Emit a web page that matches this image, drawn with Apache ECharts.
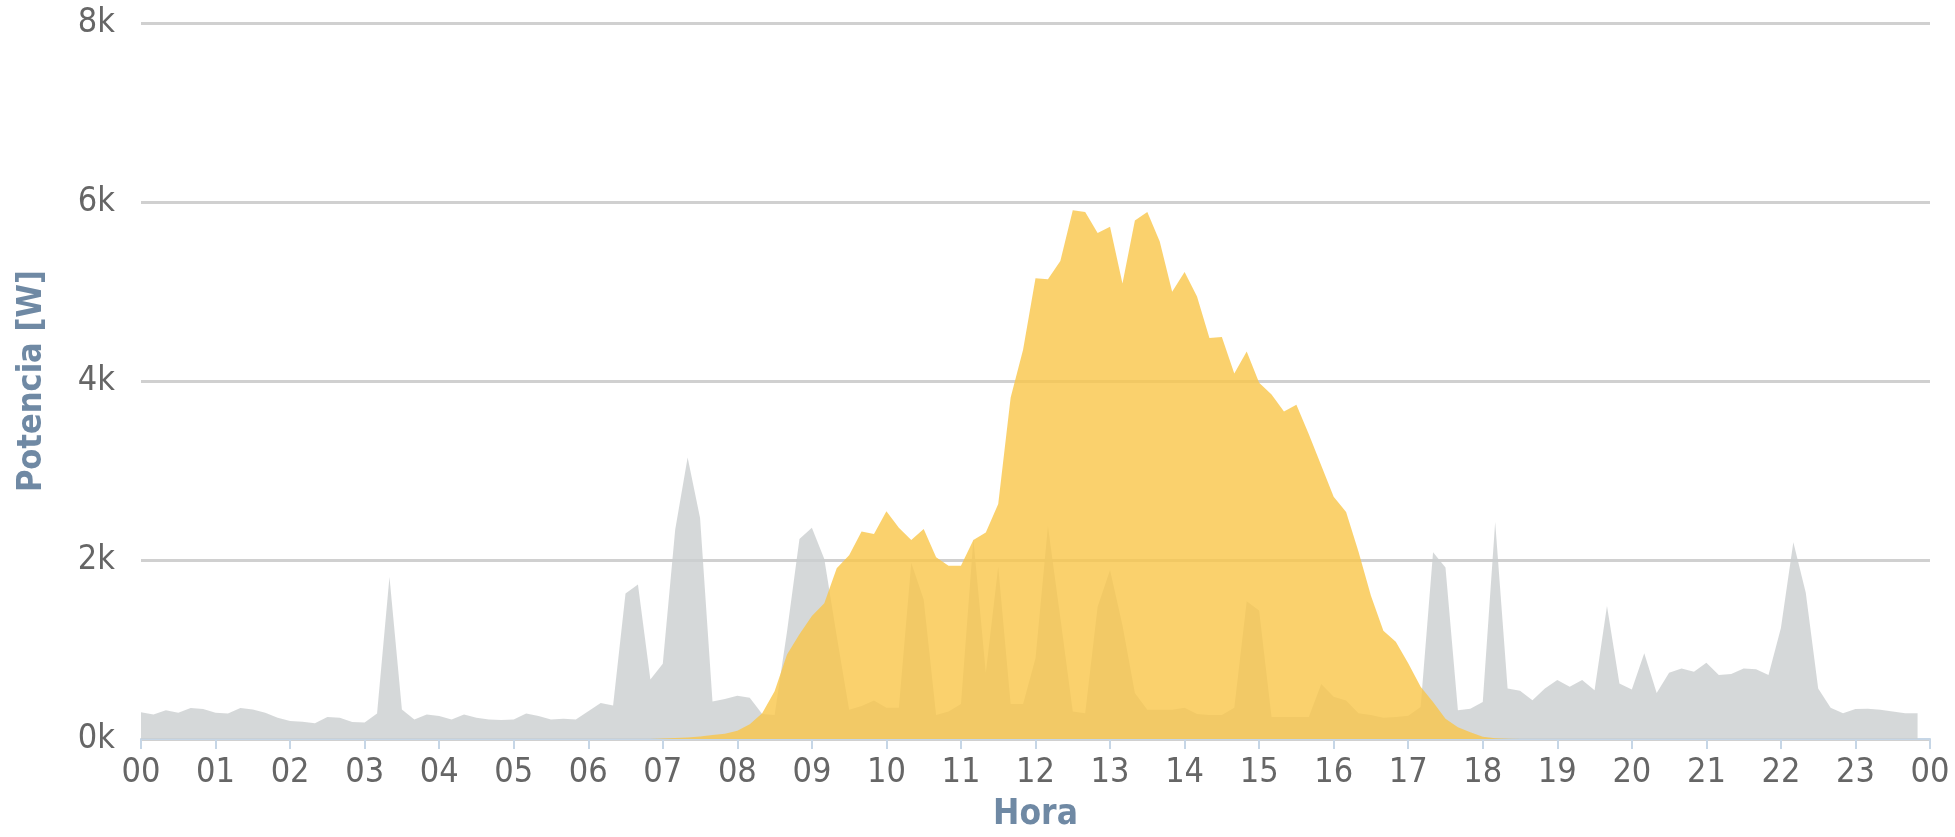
<!DOCTYPE html>
<html>
<head>
<meta charset="utf-8">
<script src="https://cdn.jsdelivr.net/npm/echarts@6/dist/echarts.min.js"></script>
<style>
html,body{margin:0;padding:0;background:#fff;}
#chart{width:1955px;height:837px;}
</style>
</head>
<body>
<div id="chart"></div>
<script>
// 10-minute samples from 00:00 to 23:50 (144 values each), in W
const consumo = [
  300,274,322,292,347,336, 292,285,347,329,292,238, 201,194,175,245,238,190,
  183,285,1810,329,219,274, 256,219,274,238,219,212, 219,285,256,219,227,219,
  311,402,373,1627,1726,665, 841,2340,3144,2468,420,446, 483,460,279,267,1200,2236,
  2359,2011,1150,328,370,431, 349,349,1970,1559,267,308, 390,2236,739,1928,390,390,
  903,2380,1354,308,287,1477, 1887,1272,513,328,328,328, 349,279,267,267,349,1539,
  1436,246,246,246,246,615, 472,431,287,267,238,246, 260,357,2086,1917,320,338,
  413,2424,564,538,432,564, 658,583,658,545,1485,620, 553,959,515,741,789,752,
  853,714,726,789,778,714, 1240,2199,1635,564,350,289, 335,338,327,308,289,289
];
const produccion = [
  0,0,0,0,0,0, 0,0,0,0,0,0, 0,0,0,0,0,0,
  0,0,0,0,0,0, 0,0,0,0,0,0, 0,0,0,0,0,0,
  0,0,0,0,0,0, 5,10,18,28,45,60, 92,165,287,533,944,1170,
  1375,1518,1908,2052,2318,2290, 2544,2360,2224,2347,2031,1937, 1937,2224,2306,2626,3816,4349,
  5149,5137,5342,5908,5888,5654, 5724,5088,5793,5888,5560,4998, 5219,4944,4480,4493,4083,4329,
  3980,3849,3660,3734,3406,3057, 2708,2536,2093,1600,1210,1087, 846,583,413,225,132,75,
  25,8,3,0,0,0, 0,0,0,0,0,0, 0,0,0,0,0,0,
  0,0,0,0,0,0, 0,0,0,0,0,0, 0,0,0,0,0,0
];
const hourLabels = ['00','01','02','03','04','05','06','07','08','09','10','11',
  '12','13','14','15','16','17','18','19','20','21','22','23','00'];
const yLabels = {0:'0k',2000:'2k',4000:'4k',6000:'6k',8000:'8k'};
const xName = 'Hora';
const yName = 'Potencia [W]';

const toPairs = arr => arr.map((v, i) => [i / 6, v]);

const chart = echarts.init(document.getElementById('chart'), null, {renderer: 'canvas'});
const font = '"DejaVu Sans Condensed", "DejaVu Sans", sans-serif';
chart.setOption({
  animation: false,
  backgroundColor: '#ffffff',
  grid: {left: 141, right: 25, top: 23, bottom: 80, containLabel: false},
  xAxis: {
    type: 'value', min: 0, max: 24, interval: 1,
    name: xName, nameLocation: 'middle', nameGap: 58,
    nameTextStyle: {color: '#6f89a4', fontSize: 35, fontWeight: 'bold', fontFamily: font},
    axisLine: {show: true, lineStyle: {color: '#c6d6e6', width: 2}},
    axisTick: {show: true, length: 10, lineStyle: {color: '#c6d6e6', width: 2}},
    axisLabel: {color: '#666666', fontSize: 34, fontFamily: font, margin: 17,
      formatter: v => hourLabels[Math.round(v)]},
    splitLine: {show: false}
  },
  yAxis: {
    type: 'value', min: 0, max: 8000, interval: 2000,
    name: yName, nameLocation: 'middle', nameGap: 92, nameRotate: 90,
    nameTextStyle: {color: '#6f89a4', fontSize: 34, fontWeight: 'bold', fontFamily: font},
    axisLine: {show: false}, axisTick: {show: false},
    axisLabel: {color: '#666666', fontSize: 34, fontFamily: font, margin: 26,
      formatter: v => yLabels[v]},
    splitLine: {show: true, lineStyle: {color: '#d0d0d0', width: 3}}
  },
  series: [
    {
      name: 'Consumo', type: 'line', data: toPairs(consumo),
      symbol: 'none', smooth: false,
      lineStyle: {width: 0, opacity: 0},
      areaStyle: {color: 'rgb(203,206,208)', opacity: 0.8},
      z: 2
    },
    {
      name: 'Producción', type: 'line', data: toPairs(produccion),
      symbol: 'none', smooth: false,
      lineStyle: {width: 0, opacity: 0},
      areaStyle: {color: 'rgb(249,197,72)', opacity: 0.8},
      z: 3
    }
  ]
});
</script>
</body>
</html>
